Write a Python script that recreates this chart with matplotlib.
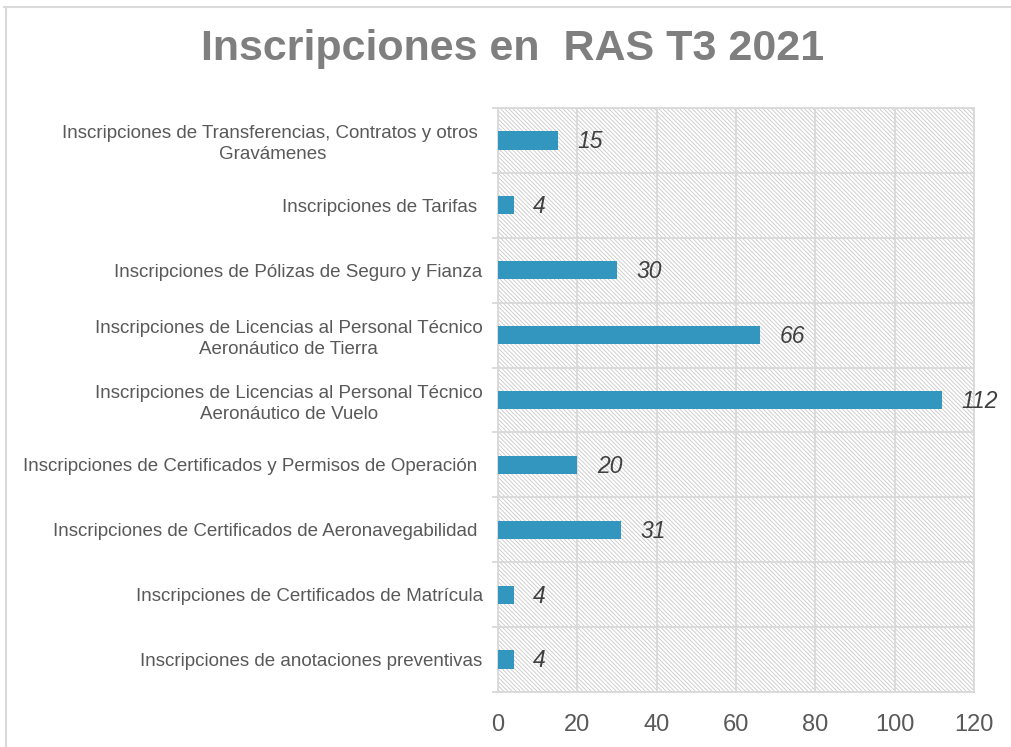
import matplotlib
matplotlib.use('Agg')
import matplotlib.pyplot as plt
from matplotlib import font_manager
from matplotlib.patches import Rectangle
from matplotlib.lines import Line2D

# data, top to bottom as in the chart
categorias = [
    'Inscripciones de Transferencias, Contratos y otros \nGravámenes',
    'Inscripciones de Tarifas ',
    'Inscripciones de Pólizas de Seguro y Fianza',
    'Inscripciones de Licencias al Personal Técnico\nAeronáutico de Tierra',
    'Inscripciones de Licencias al Personal Técnico\nAeronáutico de Vuelo',
    'Inscripciones de Certificados y Permisos de Operación ',
    'Inscripciones de Certificados de Aeronavegabilidad ',
    'Inscripciones de Certificados de Matrícula',
    'Inscripciones de anotaciones preventivas',
]
valores = [15, 4, 30, 66, 112, 20, 31, 4, 4]
xticks = [0, 20, 40, 60, 80, 100, 120]
titulo = 'Inscripciones en  RAS T3 2021'

gris_grid = '#d9d9d9'
gris_txt = '#595959'
azul = '#3396be'

plt.rcParams['font.family'] = ['Liberation Sans', 'DejaVu Sans']
plt.rcParams['hatch.linewidth'] = 0.6

# narrow font for the title if present
nombres = {f.name for f in font_manager.fontManager.ttflist}
if 'Liberation Sans Narrow' in nombres:
    fam_titulo, tam_titulo = 'Liberation Sans Narrow', 37
else:
    fam_titulo, tam_titulo = 'Liberation Sans', 31

fig = plt.figure(figsize=(10.11, 7.47), dpi=100)
ax = fig.add_axes([0.4926, 0.0736, 0.4708, 0.7818])

n = len(categorias)
pos = list(range(n))
ax.barh(pos, valores, height=0.28, color=azul, zorder=3)

for p, v in zip(pos, valores):
    ax.annotate(str(v), xy=(v, p), xytext=(14, -1), textcoords='offset points',
                ha='left', va='center', fontsize=16.5, style='italic',
                color='#404040', zorder=4)

ax.set_xlim(0, 120)
ax.set_ylim(n - 0.5, -0.5)

# hatched background
fondo = Rectangle((0, 0), 1, 1, transform=ax.transAxes, facecolor='white',
                  edgecolor='#c8c8c8', hatch='\\' * 8, linewidth=0, zorder=0)
ax.add_patch(fondo)

ax.set_xticks(xticks)
ax.set_xticklabels([str(t) for t in xticks], fontsize=17, color=gris_txt)
ax.tick_params(axis='x', length=0, pad=16)

ax.set_yticks(pos)
ax.set_yticklabels(categorias, fontsize=13.5, color=gris_txt, multialignment='center',
                   linespacing=1.3)
ax.tick_params(axis='y', which='major', length=0, pad=11)
ax.set_yticks([i - 0.5 for i in range(n + 1)], minor=True)
ax.tick_params(axis='y', which='minor', length=4, width=1.3, color=gris_grid)

ax.grid(axis='x', which='major', color=gris_grid, linewidth=1.3, zorder=1)
ax.grid(axis='y', which='minor', color=gris_grid, linewidth=1.3, zorder=1)
ax.set_axisbelow(True)
for s in ax.spines.values():
    s.set_color(gris_grid)
    s.set_linewidth(1.3)

fig.text(0.5074, 0.934, titulo, ha='center', va='center', fontsize=tam_titulo,
         fontweight='bold', family=fam_titulo, color='#7f7f7f')

# chart frame (top and left edges visible)
fig.add_artist(Line2D([0.004, 1.0], [0.991, 0.991], transform=fig.transFigure,
                      color=gris_grid, linewidth=1.5))
fig.add_artist(Line2D([0.006, 0.006], [0.0, 0.991], transform=fig.transFigure,
                      color=gris_grid, linewidth=1.5))

fig.savefig('out.png', dpi=100)
